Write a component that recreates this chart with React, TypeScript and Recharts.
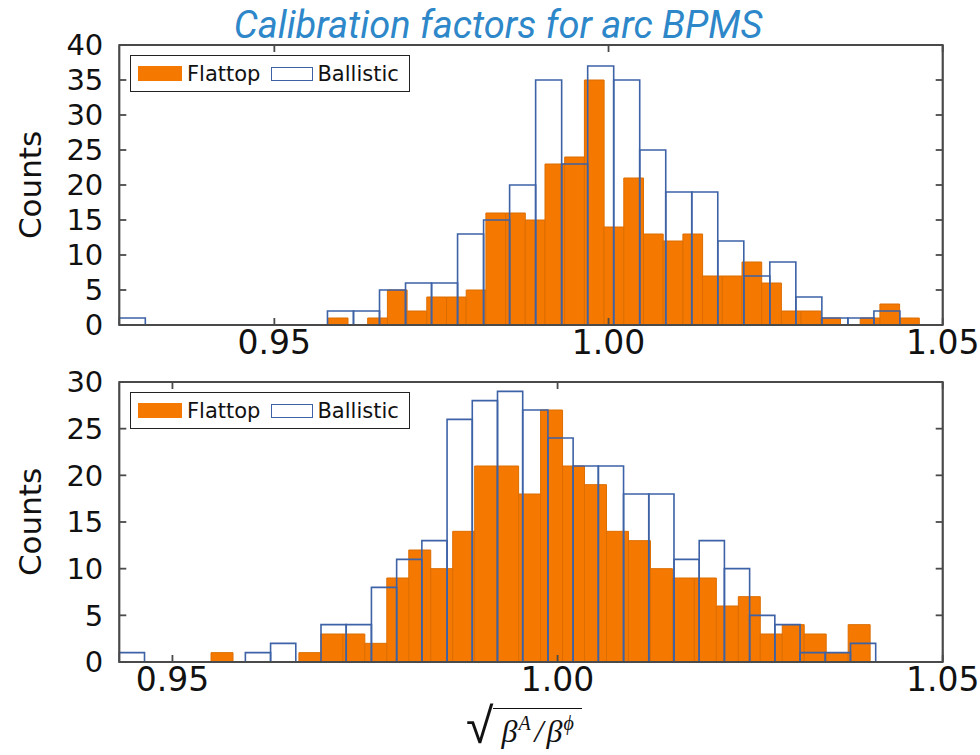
import React from 'react';
import { ComposedChart, XAxis, YAxis, ReferenceArea } from 'recharts';

// histogram counts per bin (30 bins each)
const topFlattopCounts = [1, 0, 1, 5, 2, 4, 4, 5, 16, 16, 15, 23, 24, 35, 14, 21, 13, 12, 13, 7, 7, 9, 6, 2, 2, 1, 0, 1, 3, 1];
const topFlattopRange = [0.95807, 1.0465];
const topBallisticCounts = [1, 0, 0, 0, 0, 0, 0, 0, 2, 2, 5, 6, 6, 13, 15, 20, 35, 23, 37, 35, 25, 19, 19, 12, 7, 9, 4, 1, 1, 2];
const topBallisticRange = [0.9268, 1.0436];

const bottomFlattopCounts = [1, 0, 0, 0, 1, 3, 3, 2, 9, 12, 10, 14, 21, 21, 18, 27, 21, 19, 14, 13, 10, 9, 9, 6, 7, 3, 4, 3, 1, 4];
const bottomFlattopRange = [0.95501, 1.04058];
const bottomBallisticCounts = [1, 0, 0, 0, 0, 1, 2, 0, 4, 4, 8, 11, 13, 26, 28, 29, 27, 24, 21, 21, 18, 18, 11, 13, 10, 5, 4, 1, 1, 2];
const bottomBallisticRange = [0.9431, 1.0413];

const topXDomain = [0.9268, 1.05];
const bottomXDomain = [0.9431, 1.05];
const xTicks = [0.95, 1.0, 1.05];
const topYTicks = [0, 5, 10, 15, 20, 25, 30, 35, 40];
const bottomYTicks = [0, 5, 10, 15, 20, 25, 30];

const ORANGE = '#f57900';
const BLUE = '#3d62a6';
const AXIS = '#4a4a4a';
const FONT = '"DejaVu Sans", sans-serif';

type Bin = { x0: number; x1: number; count: number };

function toBins(range: number[], counts: number[]): Bin[] {
  const w = (range[1] - range[0]) / counts.length;
  return counts.map((c, i) => ({ x0: range[0] + i * w, x1: range[0] + (i + 1) * w, count: c }));
}

function HistLegend({ top }: { top: number }) {
  return (
    <div
      style={{
        position: 'absolute',
        left: 130,
        top,
        width: 278,
        height: 35,
        border: '1.5px solid #222',
        background: '#fff',
        display: 'flex',
        alignItems: 'center',
        fontFamily: FONT,
        fontSize: 21,
        color: '#111',
      }}
    >
      <span style={{ width: 44, height: 15, background: ORANGE, marginLeft: 7, marginRight: 5 }} />
      <span>Flattop</span>
      <span style={{ width: 40, height: 12, border: `1.5px solid ${BLUE}`, marginLeft: 11, marginRight: 4 }} />
      <span>Ballistic</span>
    </div>
  );
}

function CountsLabel(props: any) {
  const { viewBox } = props;
  const cy = viewBox.y + viewBox.height / 2;
  return (
    <text
      x={41}
      y={cy}
      transform={`rotate(-90 41 ${cy})`}
      textAnchor="middle"
      fontFamily={FONT}
      fontSize={31}
      fill="#111"
    >
      Counts
    </text>
  );
}

interface PanelProps {
  flattop: Bin[];
  ballistic: Bin[];
  xDomain: number[];
  yTicks: number[];
  top: number;
}

function Panel({ flattop, ballistic, xDomain, yTicks, top }: PanelProps) {
  const yMax = yTicks[yTicks.length - 1];
  const xTickStyle = { fontFamily: FONT, fontSize: 33, fill: '#111' };
  const yTickStyle = { fontFamily: FONT, fontSize: 29, fill: '#111' };
  const line = { stroke: AXIS, strokeWidth: 1.8 };
  return (
    <div style={{ position: 'absolute', left: 0, top, width: 980, height: 370 }}>
      <ComposedChart width={980} height={370} data={flattop} margin={{ top: 44, right: 36.3, bottom: 0, left: 0 }}>
        <XAxis
          dataKey="x0"
          type="number"
          domain={xDomain}
          allowDataOverflow
          ticks={xTicks}
          tickFormatter={(v: number) => v.toFixed(2)}
          height={45}
          tickSize={-7}
          tickMargin={13}
          axisLine={line}
          tickLine={line}
          tick={xTickStyle}
          interval={0}
        />
        <XAxis
          xAxisId="top"
          dataKey="x0"
          orientation="top"
          type="number"
          domain={xDomain}
          allowDataOverflow
          ticks={xTicks}
          tickFormatter={() => ''}
          height={1}
          tickSize={-7}
          axisLine={line}
          tickLine={line}
        />
        <YAxis
          type="number"
          domain={[0, yMax]}
          allowDataOverflow
          ticks={yTicks}
          width={119.3}
          tickSize={-7}
          tickMargin={23}
          axisLine={line}
          tickLine={line}
          tick={yTickStyle}
          interval={0}
          label={{ content: CountsLabel }}
        />
        <YAxis
          yAxisId="right"
          orientation="right"
          type="number"
          domain={[0, yMax]}
          allowDataOverflow
          ticks={yTicks}
          tickFormatter={() => ''}
          width={1}
          tickSize={-7}
          axisLine={line}
          tickLine={line}
        />
        {flattop
          .filter((b) => b.count > 0)
          .map((b, i) => (
            <ReferenceArea
              key={`f${i}`}
              x1={b.x0}
              x2={b.x1}
              y1={0}
              y2={b.count}
              fill={ORANGE}
              fillOpacity={1}
              stroke="#dc6d00"
              strokeWidth={1}
              ifOverflow="visible"
            />
          ))}
        {ballistic
          .filter((b) => b.count > 0)
          .map((b, i) => (
            <ReferenceArea
              key={`b${i}`}
              x1={b.x0}
              x2={b.x1}
              y1={0}
              y2={b.count}
              fill="none"
              fillOpacity={0}
              stroke={BLUE}
              strokeWidth={1.6}
              ifOverflow="visible"
            />
          ))}
        {/* plot frame */}
        <ReferenceArea
          x1={xDomain[0]}
          x2={xDomain[1]}
          y1={0}
          y2={yMax}
          fill="none"
          fillOpacity={0}
          stroke={AXIS}
          strokeWidth={1.8}
          ifOverflow="visible"
        />
      </ComposedChart>
      <HistLegend top={55} />
    </div>
  );
}

export default function App() {
  return (
    <div style={{ position: 'absolute', left: 0, top: 0, width: 980, height: 755, background: '#fff', overflow: 'hidden' }}>
      <div
        style={{
          position: 'absolute',
          left: 0,
          top: 6,
          width: 996,
          textAlign: 'center',
          fontFamily: 'Roboto, sans-serif',
          fontStyle: 'italic',
          fontSize: 38,
          lineHeight: '38px',
          color: '#2d87c9',
        }}
      >
        Calibration factors for arc BPMS
      </div>
      <Panel
        flattop={toBins(topFlattopRange, topFlattopCounts)}
        ballistic={toBins(topBallisticRange, topBallisticCounts)}
        xDomain={topXDomain}
        yTicks={topYTicks}
        top={0}
      />
      <Panel
        flattop={toBins(bottomFlattopRange, bottomFlattopCounts)}
        ballistic={toBins(bottomBallisticRange, bottomBallisticCounts)}
        xDomain={bottomXDomain}
        yTicks={bottomYTicks}
        top={337.4}
      />
      <div
        style={{
          position: 'absolute',
          left: 466,
          top: 699,
          display: 'flex',
          alignItems: 'flex-start',
          fontFamily: '"Liberation Serif", serif',
          color: '#111',
        }}
      >
        <span style={{ fontSize: 50, lineHeight: '54px', fontFamily: '"DejaVu Sans", sans-serif', fontWeight: 200 }}>√</span>
        <span
          style={{
            borderTop: '1.6px solid #111',
            marginTop: 9,
            paddingLeft: 8,
            paddingRight: 8,
            paddingTop: 5,
            fontStyle: 'italic',
            fontSize: 32,
            lineHeight: '34px',
            whiteSpace: 'nowrap',
          }}
        >
          β<sup style={{ fontSize: 20, lineHeight: 0, marginLeft: 1, marginRight: 4 }}>A</sup>/
          <span style={{ marginLeft: 3 }}>β</span>
          <sup style={{ fontSize: 20, lineHeight: 0, marginLeft: 1 }}>ϕ</sup>
        </span>
      </div>
    </div>
  );
}
